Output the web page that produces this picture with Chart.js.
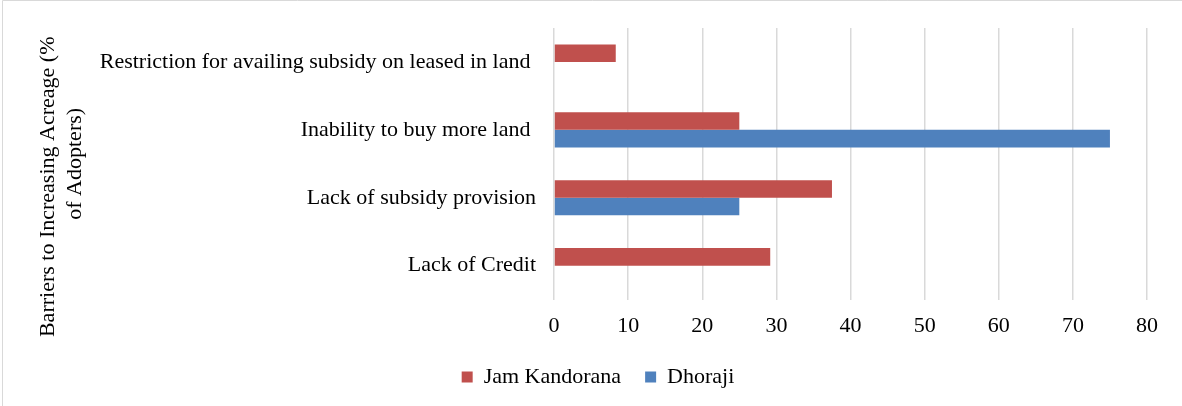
<!DOCTYPE html>
<html>
<head>
<meta charset="utf-8">
<script src="https://cdn.jsdelivr.net/npm/chart.js@4/dist/chart.umd.min.js"></script>
<style>
  html, body { margin: 0; padding: 0; background: #fff; }
  #wrap { position: relative; width: 1182px; height: 406px; }
</style>
</head>
<body>
<div id="wrap"><canvas id="barriers"></canvas></div>
<script>
// Barriers to increasing acreage, % of adopters per block
const categories = [
  'Restriction for availing subsidy on leased in land ',
  'Inability to buy more land ',
  'Lack of subsidy provision',
  'Lack of Credit'
];
const jamKandorana = [8.33, 25, 37.5, 29.17];
const dhoraji = [0, 75, 25, 0];
const xTicks = [0, 10, 20, 30, 40, 50, 60, 70, 80];
const axisTitleLines = ['Barriers to Increasing Acreage (%', 'of Adopters)'];

const FONT = 'Liberation Serif, Times New Roman, serif';
const RED = '#C0504D';
const BLUE = '#4F81BD';
const GRID = '#D9D9D9';
const PLOT_LEFT = 554;
const PAD_LEFT = 49;

// white page plus the thin frame on the top and left edges
const framePlugin = {
  id: 'frame',
  beforeDraw(chart) {
    const { ctx, width, height } = chart;
    ctx.save();
    ctx.fillStyle = '#fff';
    ctx.fillRect(0, 0, width, height);
    ctx.strokeStyle = GRID;
    ctx.lineWidth = 1;
    ctx.beginPath();
    ctx.moveTo(2.5, height);
    ctx.lineTo(2.5, 0.5);
    ctx.lineTo(width, 0.5);
    ctx.stroke();
    ctx.restore();
  }
};

// rotated two-line title on the category axis
const axisTitlePlugin = {
  id: 'axisTitle',
  afterDraw(chart) {
    const { ctx, chartArea } = chart;
    const mid = (chartArea.top + chartArea.bottom) / 2;
    ctx.save();
    ctx.fillStyle = '#000';
    ctx.font = '22px ' + FONT;
    ctx.textAlign = 'center';
    ctx.textBaseline = 'middle';
    const spots = [{ x: 48, y: mid + 23 }, { x: 75, y: mid }];
    axisTitleLines.forEach((line, i) => {
      ctx.save();
      ctx.translate(spots[i].x, spots[i].y);
      ctx.rotate(-Math.PI / 2);
      ctx.fillText(line, 0, 0);
      ctx.restore();
    });
    ctx.restore();
  }
};

Chart.defaults.font.family = FONT;
Chart.defaults.font.size = 22;
Chart.defaults.color = '#000';

new Chart(document.getElementById('barriers'), {
  type: 'bar',
  data: {
    labels: categories,
    datasets: [
      { label: 'Jam Kandorana', data: jamKandorana, backgroundColor: RED },
      { label: 'Dhoraji', data: dhoraji, backgroundColor: BLUE }
    ]
  },
  options: {
    indexAxis: 'y',
    responsive: true,
    maintainAspectRatio: false,
    animation: false,
    datasets: {
      bar: { categoryPercentage: 0.517, barPercentage: 1, borderWidth: 0 }
    },
    layout: { padding: { top: 28, right: 35, bottom: 8, left: PAD_LEFT } },
    scales: {
      x: {
        min: 0,
        max: 80,
        afterBuildTicks(scale) {
          scale.ticks = xTicks.map(v => ({ value: v }));
        },
        afterFit(scale) { scale.height += 1; },
        grid: { color: GRID, lineWidth: 1.5, drawTicks: false },
        border: { display: false },
        ticks: { padding: 13, color: '#000' }
      },
      y: {
        afterFit(scale) {
          scale.width = PLOT_LEFT - PAD_LEFT;
          // category labels sit inside the plot height, no extra room needed
          scale.paddingTop = 0;
          scale.paddingBottom = 0;
        },
        grid: { display: false, drawTicks: false },
        border: { display: false },
        ticks: { padding: 18, color: '#000' }
      }
    },
    plugins: {
      legend: {
        position: 'bottom',
        labels: {
          boxWidth: 11,
          boxHeight: 11,
          padding: 13,
          color: '#000',
          generateLabels(chart) {
            const items = Chart.defaults.plugins.legend.labels.generateLabels(chart);
            // widen the gap after every entry but the last
            items.forEach((it, i) => {
              if (i < items.length - 1) it.text = it.text + '  ';
            });
            return items;
          }
        }
      },
      tooltip: { enabled: false }
    }
  },
  plugins: [framePlugin, axisTitlePlugin]
});
</script>
</body>
</html>
